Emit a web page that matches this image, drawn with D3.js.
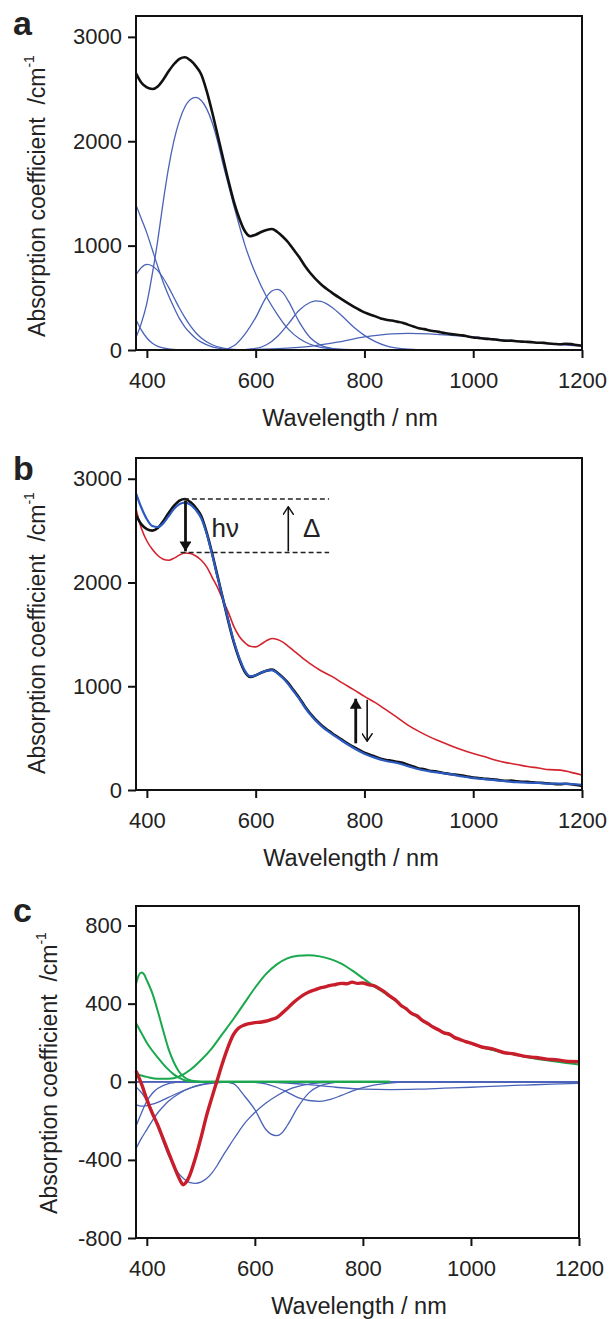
<!DOCTYPE html>
<html>
<head>
<meta charset="utf-8">
<script src="https://cdn.jsdelivr.net/npm/d3@7"></script>
<style>
  body { margin: 0; background: #fff; }
  text { font-family: "Liberation Sans", Arial, sans-serif; fill: #222; }
</style>
</head>
<body>
<div id="chart"></div>
<script>
// wavelength ticks shared by all three panels
var wlTicks = [400, 600, 800, 1000, 1200];
var absTicks = [0, 1000, 2000, 3000];
var diffTicks = [-800, -400, 0, 400, 800];

// panel a / b: measured spectrum before irradiation (black)
var darkSpectrum = [[380,2650],[390,2560],[400,2515],[410,2500],[420,2525],[430,2590],[440,2670],[450,2740],[460,2790],[470,2805],[480,2775],[490,2720],[500,2640],[510,2480],[520,2280],[530,2060],[540,1840],[550,1620],[560,1420],[570,1260],[580,1140],[590,1090],[600,1105],[610,1130],[620,1150],[630,1160],[640,1130],[650,1085],[660,1030],[670,960],[680,890],[690,810],[700,740],[720,630],[740,550],[760,480],[780,415],[800,360],[820,322],[830,302],[840,290],[850,282],[860,272],[870,262],[880,243],[890,226],[900,208],[910,200],[920,186],[930,180],[940,170],[950,160],[960,152],[970,146],[980,140],[990,130],[1000,120],[1010,116],[1020,108],[1030,106],[1040,100],[1050,94],[1060,88],[1070,90],[1080,84],[1090,80],[1100,78],[1110,74],[1120,70],[1130,68],[1140,62],[1150,58],[1160,55],[1170,60],[1180,56],[1190,48],[1200,40]];

// panel a: gaussian components (blue)
var aComp1 = [[380,120],[390,260],[400,450],[410,730],[420,1050],[430,1420],[440,1750],[450,2010],[460,2200],[470,2330],[480,2400],[490,2420],[500,2390],[510,2310],[520,2180],[530,2000],[540,1780],[550,1580],[560,1380],[570,1190],[580,1010],[590,860],[600,730],[620,510],[640,340],[660,200],[680,110],[700,55],[720,25],[750,8],[800,0],[1200,0]];
var aComp2 = [[380,720],[390,790],[400,820],[410,805],[420,760],[430,690],[440,600],[450,500],[460,400],[470,310],[480,230],[490,165],[500,115],[520,50],[540,18],[560,5],[580,1],[600,0],[1200,0]];
var aComp3 = [[380,1390],[390,1255],[400,1120],[410,960],[420,800],[430,650],[440,520],[450,405],[460,300],[470,220],[480,160],[490,110],[500,75],[520,30],[540,10],[560,2],[580,0],[1200,0]];
var aComp4 = [[380,290],[390,190],[400,115],[410,65],[420,35],[440,10],[460,2],[480,0],[1200,0]];
var aComp5 = [[380,0],[520,0],[540,4],[560,40],[580,150],[600,310],[620,510],[630,565],[640,580],[650,550],[660,470],[680,270],[700,120],[720,45],[740,15],[760,4],[800,0],[1200,0]];
var aComp6 = [[380,0],[560,0],[600,15],[620,50],[640,130],[660,250],[680,380],[700,455],[710,470],[720,465],[740,410],[760,320],[780,220],[800,140],[820,80],[840,40],[860,18],[880,7],[900,2],[950,0],[1200,0]];
var aComp7 = [[380,0],[550,0],[600,5],[650,15],[700,35],[750,75],[800,125],[850,155],[880,160],[920,155],[960,140],[1000,125],[1050,100],[1100,75],[1150,55],[1200,38]];

// panel b: after irradiation (red) and after heating (blue)
var lightSpectrum = [[380,2710],[390,2520],[400,2400],[410,2320],[420,2260],[430,2225],[440,2215],[450,2235],[460,2265],[470,2285],[480,2280],[490,2255],[500,2215],[510,2150],[520,2050],[530,1950],[540,1830],[550,1710],[560,1575],[570,1480],[580,1420],[590,1385],[600,1380],[610,1405],[620,1440],[630,1460],[640,1450],[650,1425],[660,1385],[670,1342],[680,1300],[690,1256],[700,1218],[720,1150],[740,1095],[760,1030],[780,968],[800,902],[820,842],[840,772],[860,700],[880,626],[900,565],[920,512],[940,468],[960,425],[980,386],[1000,352],[1020,322],[1040,290],[1060,264],[1080,246],[1100,226],[1120,212],[1140,196],[1160,192],[1180,170],[1200,145]];
var heatedSpectrum = [[380,2860],[390,2720],[400,2610],[410,2545],[420,2535],[430,2570],[440,2640],[450,2710],[460,2755],[470,2770],[480,2750],[490,2700],[500,2620],[510,2470],[520,2270],[530,2050],[540,1840],[550,1630],[560,1430],[570,1270],[580,1150],[590,1095],[600,1105],[610,1130],[620,1150],[630,1155],[640,1125],[650,1080],[660,1020],[670,950],[680,880],[690,800],[700,730],[720,620],[740,540],[760,470],[780,405],[800,350],[820,310],[840,280],[860,260],[880,230],[900,200],[920,180],[940,165],[960,150],[980,130],[1000,115],[1020,105],[1040,95],[1060,85],[1080,75],[1100,70],[1120,68],[1140,60],[1160,62],[1180,58],[1200,50]];

// panel b annotations (data coordinates)
var dashLevels = [[468, 735, 2805], [462, 735, 2290]];
var arrowsB = [
  {wl: 471, from: 2790, to: 2300, kind: "thick"},
  {wl: 660, from: 2300, to: 2730, kind: "thin"},
  {wl: 784, from: 450, to: 880, kind: "thick"},
  {wl: 805, from: 870, to: 470, kind: "thin"}
];
var labelsB = [["hν", 519, 2440], ["Δ", 687, 2440]];

// panel c: difference spectrum (red), positive (green) and negative (blue) components
var diffSpectrum = [[380,55],[390,-10],[400,-90],[410,-160],[420,-220],[430,-290],[440,-360],[450,-430],[460,-495],[467,-527],[475,-505],[480,-475],[490,-390],[500,-290],[510,-180],[520,-85],[530,5],[540,95],[550,175],[560,240],[570,275],[580,290],[590,298],[600,303],[610,305],[620,310],[630,318],[640,328],[650,350],[660,375],[670,402],[680,425],[690,445],[700,460],[710,470],[720,480],[730,486],[740,494],[750,498],[760,504],[770,502],[780,510],[790,504],[800,506],[810,497],[820,492],[830,478],[840,460],[850,438],[860,420],[870,392],[880,374],[890,350],[900,338],[910,314],[920,298],[930,280],[940,266],[950,250],[960,244],[970,226],[980,216],[990,206],[1000,198],[1020,178],[1040,168],[1060,150],[1080,142],[1100,130],[1120,124],[1140,116],[1160,112],[1180,104],[1200,103]];
var cGreen1 = [[380,40],[400,25],[420,15],[440,15],[460,27],[480,60],[500,110],[520,170],[540,245],[560,320],[580,400],[600,480],[620,550],[640,600],[660,632],[680,645],[700,648],[720,642],[740,628],[760,605],[780,570],[800,530],[820,490],[840,455],[860,415],[880,372],[900,333],[920,296],[940,265],[960,240],[980,215],[1000,196],[1020,178],[1040,163],[1060,150],[1080,140],[1100,128],[1120,118],[1140,110],[1160,102],[1180,95],[1200,88]];
var cGreen2 = [[380,500],[385,545],[390,560],[395,550],[400,520],[410,455],[420,365],[430,265],[440,170],[450,100],[460,50],[470,22],[480,8],[490,3],[500,0],[850,0]];
var cGreen3 = [[380,300],[390,250],[400,200],[410,160],[420,125],[430,92],[440,62],[450,38],[460,20],[470,8],[480,2],[500,0],[850,0]];
var cBlue1 = [[380,-26],[390,-55],[400,-97],[410,-157],[420,-226],[430,-305],[440,-376],[450,-432],[460,-473],[470,-500],[480,-516],[490,-520],[500,-514],[510,-497],[520,-469],[530,-430],[540,-383],[550,-340],[560,-297],[570,-256],[580,-217],[590,-185],[600,-157],[620,-110],[640,-73],[660,-43],[680,-24],[700,-12],[720,-5],[750,-2],[800,0],[1200,0]];
var cBlue2 = [[380,-117],[390,-125],[400,-122],[410,-115],[420,-105],[440,-80],[460,-55],[480,-33],[500,-17],[520,-8],[540,-3],[560,-1],[580,0],[1200,0]];
var cBlue3 = [[380,-342],[390,-290],[400,-245],[410,-200],[420,-160],[430,-128],[440,-100],[460,-60],[480,-32],[500,-15],[520,-6],[540,-2],[560,0],[1200,0]];
var cBlue4 = [[380,-228],[390,-160],[400,-100],[410,-60],[420,-35],[440,-10],[460,-2],[480,0],[1200,0]];
var cBlue5 = [[380,0],[520,0],[540,-1],[560,-10],[580,-70],[600,-143],[620,-243],[630,-268],[640,-276],[650,-262],[660,-224],[680,-129],[700,-57],[720,-21],[740,-7],[760,-2],[800,0],[1200,0]];
var cBlue6 = [[380,0],[580,0],[600,-3],[620,-11],[640,-28],[660,-53],[680,-81],[700,-96],[720,-100],[740,-90],[760,-70],[780,-48],[800,-30],[820,-17],[840,-9],[860,-4],[880,-1],[900,0],[1200,0]];
var cBlue7 = [[380,0],[600,0],[650,-5],[700,-15],[750,-28],[800,-38],[850,-40],[900,-38],[950,-33],[1000,-28],[1050,-22],[1100,-17],[1150,-12],[1200,-8]];

var compBlue = "#4a63b8";
var svg = d3.select("#chart").append("svg").attr("width", 610).attr("height", 1319);

var defs = svg.append("defs");
defs.append("marker").attr("id", "headFill")
  .attr("viewBox", "0 0 10 12").attr("refX", 10).attr("refY", 6)
  .attr("markerWidth", 10).attr("markerHeight", 12)
  .attr("markerUnits", "userSpaceOnUse").attr("orient", "auto")
  .append("path").attr("d", "M0,0 L10,6 L0,12 Z").attr("fill", "#111");
defs.append("marker").attr("id", "headOpen")
  .attr("viewBox", "0 0 10 12").attr("refX", 9).attr("refY", 6)
  .attr("markerWidth", 9).attr("markerHeight", 11)
  .attr("markerUnits", "userSpaceOnUse").attr("orient", "auto")
  .append("path").attr("d", "M0,0 L9,6 L0,12").attr("fill", "none")
  .attr("stroke", "#111").attr("stroke-width", 1.6);

function drawPanel(p) {
  var x = d3.scaleLinear().domain([380, 1200]).range([p.left, p.right]);
  var y = d3.scaleLinear().domain(p.yDomain).range([p.bottom, p.top]);
  var g = svg.append("g");
  var line = d3.line().x(function(d){ return x(d[0]); }).y(function(d){ return y(d[1]); })
    .curve(d3.curveMonotoneX);

  p.series.forEach(function(s) {
    g.append("path").datum(s.data).attr("d", line)
      .attr("fill", "none").attr("stroke", s.color).attr("stroke-width", s.width)
      .attr("stroke-linejoin", "round");
  });

  // x axis
  var xa = g.append("g").attr("transform", "translate(0," + p.bottom + ")")
    .call(d3.axisBottom(x).tickValues(wlTicks).tickSize(8).tickPadding(14).tickFormat(function(d){ return String(d); }));
  // y axis
  var ya = g.append("g").attr("transform", "translate(" + p.left + ",0)")
    .call(d3.axisLeft(y).tickValues(p.yTicks).tickSize(8).tickPadding(6).tickFormat(function(d){ return String(d); }));
  [xa, ya].forEach(function(a) {
    a.select(".domain").remove();
    a.selectAll("line").attr("stroke", "#111").attr("stroke-width", 2);
    a.selectAll("text").attr("font-size", 22).attr("fill", "#222")
      .attr("font-family", "Liberation Sans, Arial, sans-serif");
  });

  // frame
  g.append("rect").attr("x", p.left).attr("y", p.top)
    .attr("width", p.right - p.left).attr("height", p.bottom - p.top)
    .attr("fill", "none").attr("stroke", "#111").attr("stroke-width", 2);

  // axis titles
  g.append("text").attr("x", p.xtX).attr("y", p.bottom + 76)
    .attr("text-anchor", "middle").attr("font-size", 23.5).text("Wavelength / nm");
  var yt = g.append("text")
    .attr("transform", "translate(" + p.ytX + "," + p.ytY + ") rotate(-90)")
    .attr("text-anchor", "middle").attr("font-size", 23).style("white-space", "pre");
  yt.append("tspan").text("Absorption coefficient  /cm");
  yt.append("tspan").attr("dy", -11).attr("font-size", 14).text("-1");

  // panel letter
  g.append("text").attr("x", 13).attr("y", p.letterY)
    .attr("font-size", 34).attr("font-weight", "bold").attr("fill", "#111").text(p.letter);

  return {g: g, x: x, y: y};
}

// panel a
drawPanel({
  letter: "a", letterY: 35,
  left: 136, right: 582, top: 16, bottom: 350,
  yDomain: [0, 3200], yTicks: absTicks, ytX: 45, ytY: 196, xtX: 350,
  series: [
    {data: aComp7, color: compBlue, width: 1.3},
    {data: aComp6, color: compBlue, width: 1.3},
    {data: aComp5, color: compBlue, width: 1.3},
    {data: aComp4, color: compBlue, width: 1.3},
    {data: aComp3, color: compBlue, width: 1.3},
    {data: aComp2, color: compBlue, width: 1.3},
    {data: aComp1, color: compBlue, width: 1.3},
    {data: darkSpectrum, color: "#111", width: 2.6}
  ]
});

// panel b
var pb = drawPanel({
  letter: "b", letterY: 480,
  left: 136, right: 582, top: 458, bottom: 790,
  yDomain: [0, 3200], yTicks: absTicks, ytX: 45, ytY: 633, xtX: 351,
  series: [
    {data: lightSpectrum, color: "#d3232e", width: 1.6},
    {data: darkSpectrum, color: "#111", width: 2.6},
    {data: heatedSpectrum, color: "#2a59c0", width: 2.2}
  ]
});

pb.g.selectAll(".dash").data(dashLevels).enter().append("line")
  .attr("x1", function(d){ return pb.x(d[0]); }).attr("x2", function(d){ return pb.x(d[1]); })
  .attr("y1", function(d){ return pb.y(d[2]); }).attr("y2", function(d){ return pb.y(d[2]); })
  .attr("stroke", "#222").attr("stroke-width", 1.5).attr("stroke-dasharray", "5,3");
pb.g.selectAll(".arr").data(arrowsB).enter().append("line")
  .attr("x1", function(d){ return pb.x(d.wl); }).attr("x2", function(d){ return pb.x(d.wl); })
  .attr("y1", function(d){ return pb.y(d.from); }).attr("y2", function(d){ return pb.y(d.to); })
  .attr("stroke", "#111")
  .attr("stroke-width", function(d){ return d.kind === "thick" ? 2.8 : 1.6; })
  .attr("marker-end", function(d){ return d.kind === "thick" ? "url(#headFill)" : "url(#headOpen)"; });
pb.g.selectAll(".lbl").data(labelsB).enter().append("text")
  .attr("x", function(d){ return pb.x(d[1]); }).attr("y", function(d){ return pb.y(d[2]); })
  .attr("font-size", 26).attr("fill", "#111").text(function(d){ return d[0]; });

// panel c
drawPanel({
  letter: "c", letterY: 922,
  left: 136, right: 579, top: 906, bottom: 1238,
  yDomain: [-800, 900], yTicks: diffTicks, ytX: 57, ytY: 1073, xtX: 359,
  series: [
    {data: cBlue7, color: compBlue, width: 1.3},
    {data: cBlue6, color: compBlue, width: 1.3},
    {data: cBlue5, color: compBlue, width: 1.3},
    {data: cBlue4, color: compBlue, width: 1.3},
    {data: cBlue3, color: compBlue, width: 1.3},
    {data: cBlue2, color: compBlue, width: 1.3},
    {data: cBlue1, color: compBlue, width: 1.3},
    {data: cGreen3, color: "#1aa84c", width: 2},
    {data: cGreen2, color: "#1aa84c", width: 2},
    {data: cGreen1, color: "#1aa84c", width: 2},
    {data: diffSpectrum, color: "#c81d2b", width: 3.4}
  ]
});
</script>
</body>
</html>
